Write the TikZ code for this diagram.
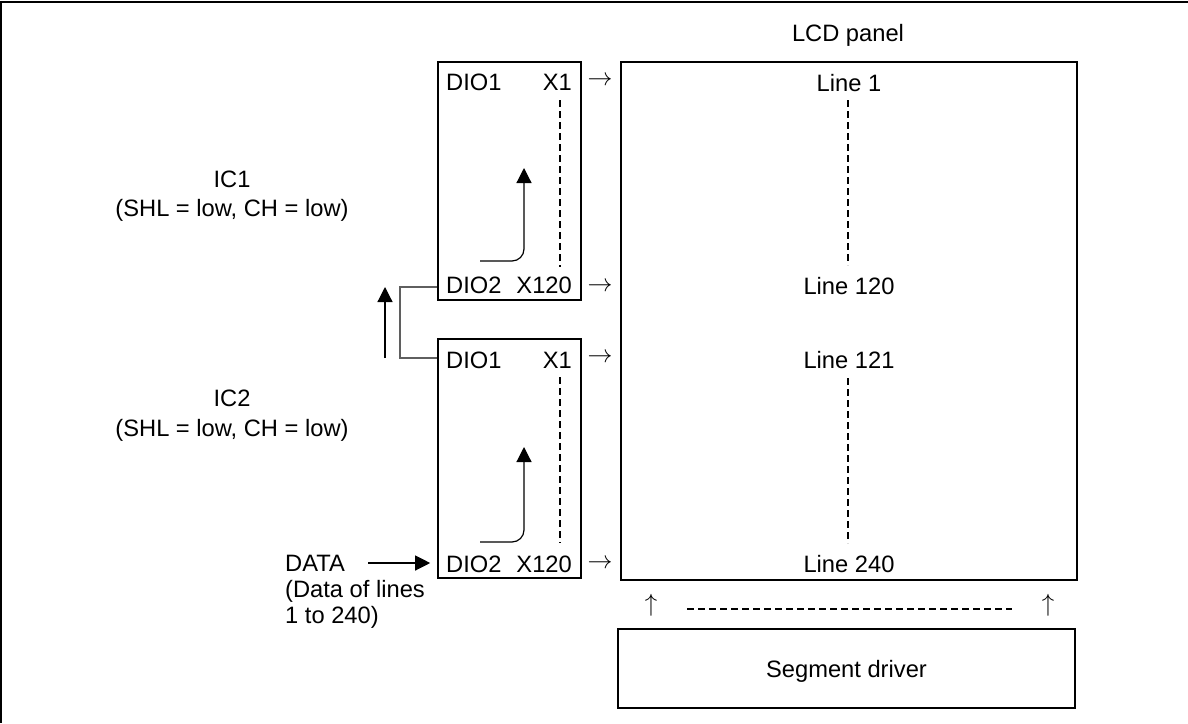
\documentclass[tikz,border=0pt]{standalone}
\usepackage{fontspec}
\setmainfont{Liberation Sans}
\usetikzlibrary{arrows.meta}
\definecolor{conngray}{RGB}{95,95,95}
\begin{document}
\begin{tikzpicture}[x=1pt,y=-1pt,
  txt/.style={inner sep=0pt, font=\fontsize{23.7}{28}\selectfont},
  glyph/.style={inner sep=0pt, font=\fontsize{27}{30}\selectfont},
  box/.style={draw, line width=1.6pt, inner sep=0pt, minimum width=#1},
  dsh/.style={line width=1.3pt, dash pattern=on 7pt off 4pt},
  arr/.style={line width=1.2pt, -{Triangle[length=15pt,width=15pt]}},
  conn/.style={line width=1.4pt, draw=conngray}]
\useasboundingbox (0,0) rectangle (1188,723);
% frame (top and left edges visible)
\draw[line width=2pt] (1188,2) -- (1,2) -- (1,723);

% boxes
\node[box=143pt, minimum height=238pt] (ic1) at (509.5,181) {};
\node[box=143pt, minimum height=239pt] (ic2) at (509.5,458.5) {};
\node[box=456pt, minimum height=518pt] (panel) at (849,321) {};
\node[box=457pt, minimum height=79pt] (seg) at (846.5,668.5) {};

% texts in IC1
\node[txt, anchor=base west] (i1d1) at (446,90) {DIO1};
\node[txt, anchor=base east] (i1x1) at (572,90) {X1};
\node[txt, anchor=base west] (i1d2) at (446,293.5) {DIO2};
\node[txt, anchor=base east] (i1x2) at (572,293.5) {X120};
% texts in IC2
\node[txt, anchor=base west] (i2d1) at (446,368) {DIO1};
\node[txt, anchor=base east] (i2x1) at (572,368) {X1};
\node[txt, anchor=base west] (i2d2) at (446,572) {DIO2};
\node[txt, anchor=base east] (i2x2) at (572,572) {X120};

% panel texts
\node[txt, anchor=base] (lcd) at (848,41.7) {LCD panel};
\node[txt, anchor=base] (l1) at (849,91.5) {Line 1};
\node[txt, anchor=base] (l120) at (849,294) {Line 120};
\node[txt, anchor=base] (l121) at (849,368) {Line 121};
\node[txt, anchor=base] (l240) at (849,572) {Line 240};
\node[txt, anchor=base] (segt) at (846.5,677) {Segment driver};

% left labels
\node[txt, anchor=base] (ic1a) at (232,187) {IC1};
\node[txt, anchor=base] (ic1b) at (232,216) {(SHL = low, CH = low)};
\node[txt, anchor=base] (ic2a) at (232,406.5) {IC2};
\node[txt, anchor=base] (ic2b) at (232,436) {(SHL = low, CH = low)};
\node[txt, anchor=base west] (data1) at (285,571) {DATA};
\node[txt, anchor=base west] (data2) at (285,597) {(Data of lines};
\node[txt, anchor=base west] (data3) at (285,623) {1 to 240)};

% output arrows (glyphs)
\node[glyph] (a1) at (600,81) {$\rightarrow$};
\node[glyph] (a2) at (600,287) {$\rightarrow$};
\node[glyph] (a3) at (600,358) {$\rightarrow$};
\node[glyph] (a4) at (600,564) {$\rightarrow$};
\node[glyph] (u1) at (651,605) {$\uparrow$};
\node[glyph] (u2) at (1048,605) {$\uparrow$};

% dashed lines
\draw[dsh] (560,100) -- (560,267);
\draw[dsh] (560,377) -- (560,543);
\draw[dsh] (848,100) -- (848,265);
\draw[dsh] (848,378) -- (848,543);
\draw[dsh] (687,609) -- (1012,609);

% inner curved arrows
\coordinate (c1s) at (480,261);
\coordinate (c1e) at (524,168);
\coordinate (c2s) at (480,542);
\coordinate (c2e) at (524,447);
\draw[arr, rounded corners=12pt] (c1s) -| (c1e);
\draw[arr, rounded corners=12pt] (c2s) -| (c2e);

% cascade connector
\coordinate (k1) at (400,287);
\coordinate (k2) at (400,358);
\draw[conn] (ic1.west |- k1) -- (k1) -- (k2) -- (ic2.west |- k2);

% upward flow arrow
\coordinate (ub) at (385,358);
\coordinate (ut) at (385,287);
\draw[arr] (ub) -- (ut);

% DATA arrow
\coordinate (ds) at (368,563);
\draw[arr, shorten >=7pt] (ds) -- (ic2.west |- ds);
\end{tikzpicture}
\end{document}
